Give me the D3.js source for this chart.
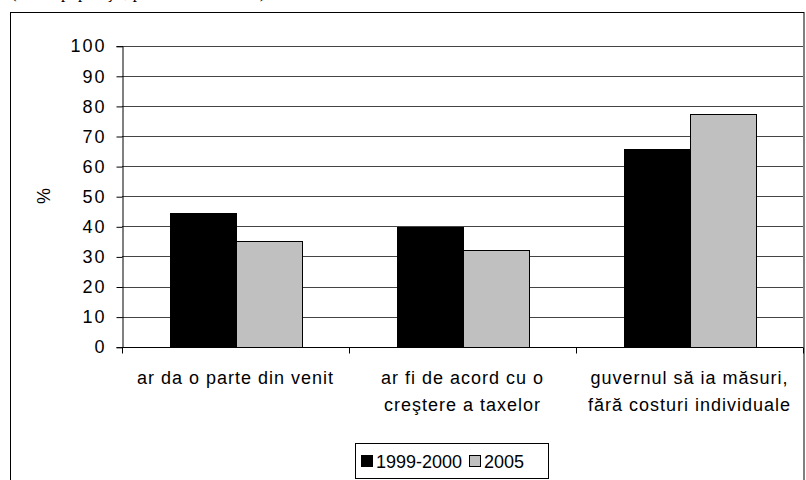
<!DOCTYPE html>
<html>
<head>
<meta charset="utf-8">
<script src="https://cdn.jsdelivr.net/npm/d3@7"></script>
<style>
  html, body { margin: 0; padding: 0; background: #fff; }
  svg { display: block; }
</style>
</head>
<body>
<svg id="chart" width="806" height="480"></svg>
<script>
const categories = [
  ["ar da o parte din venit"],
  ["ar fi de acord cu o", "creştere a taxelor"],
  ["guvernul să ia măsuri,", "fără costuri individuale"]
];
const seriesNames = ["1999-2000", "2005"];
const values1999 = [44.5, 39.7, 65.8];
const values2005 = [35.0, 32.1, 77.2];
const yTicks = [0, 10, 20, 30, 40, 50, 60, 70, 80, 90, 100];
const seriesColors = ["#000000", "#c0c0c0"];

const svg = d3.select("#chart");
const font = "'Liberation Sans', Arial, sans-serif";

// header text, almost entirely above the top edge in the reference
svg.append("text")
  .attr("x", 11).attr("y", -2.5)
  .attr("font-family", "'Liberation Serif', 'Times New Roman', serif")
  .attr("font-size", 17)
  .text("(% din populaţie, pe ani de cercetare)");

// outer frame
svg.append("rect")
  .attr("x", 10.5).attr("y", 12.5)
  .attr("width", 793.5).attr("height", 480)
  .attr("fill", "none").attr("stroke", "#000").attr("stroke-width", 1);

const plot = { left: 122, right: 803, top: 45.7, bottom: 346.7 };

const y = d3.scaleLinear().domain([0, 100]).range([plot.bottom, plot.top]);
const x0 = d3.scaleBand().domain(d3.range(categories.length)).range([plot.left, plot.right]).padding(0);
const bw = x0.bandwidth();
const x1 = d3.scaleBand().domain(seriesNames).range([bw * 0.21, bw * 0.79]).padding(0);

// gridlines
svg.append("g").selectAll("line")
  .data(yTicks.filter(d => d > 0))
  .join("line")
  .attr("x1", plot.left).attr("x2", plot.right)
  .attr("y1", d => Math.round(y(d)) + 0.5).attr("y2", d => Math.round(y(d)) + 0.5)
  .attr("stroke", "#444").attr("stroke-width", 1);

// y axis
const yAxis = d3.axisLeft(y).tickValues(yTicks).tickSize(6).tickPadding(10).tickFormat(d3.format("d"));
const gy = svg.append("g").attr("transform", `translate(${plot.left + 0.5},0.5)`).call(yAxis);
gy.select(".domain").attr("stroke", "#000");
gy.selectAll(".tick line").attr("stroke", "#000");
gy.selectAll("text").attr("font-family", font).attr("font-size", 18)
  .attr("letter-spacing", 2).attr("fill", "#000");

// y title
svg.append("text")
  .attr("transform", "translate(50,196) rotate(-90)")
  .attr("text-anchor", "middle")
  .attr("font-family", font).attr("font-size", 18)
  .text("%");

// bars
const data = categories.map((c, i) => ({ i, vals: [values1999[i], values2005[i]] }));
const groups = svg.append("g").selectAll("g")
  .data(data).join("g")
  .attr("transform", d => `translate(${x0(d.i)},0)`);
groups.selectAll("rect")
  .data(d => d.vals.map((v, k) => ({ k, v })))
  .join("rect")
  .attr("x", d => Math.round(x1(seriesNames[d.k])) + 0.5)
  .attr("y", d => Math.round(y(d.v)) + 0.5)
  .attr("width", Math.round(x1.bandwidth()))
  .attr("height", d => Math.round(y(0)) - Math.round(y(d.v)))
  .attr("fill", d => seriesColors[d.k])
  .attr("stroke", "#000").attr("stroke-width", 1);

// x axis line and ticks at category boundaries
svg.append("line")
  .attr("x1", plot.left).attr("x2", plot.right)
  .attr("y1", Math.round(y(0)) + 0.5).attr("y2", Math.round(y(0)) + 0.5)
  .attr("stroke", "#000");
const boundaries = d3.range(categories.length + 1).map(i => i < categories.length ? x0(i) : plot.right);
svg.append("g").selectAll("line")
  .data(boundaries).join("line")
  .attr("x1", d => Math.round(d) + 0.5).attr("x2", d => Math.round(d) + 0.5)
  .attr("y1", Math.round(y(0)) + 0.5).attr("y2", Math.round(y(0)) + 6.5)
  .attr("stroke", "#000");

// category labels
const lab = svg.append("g").selectAll("text")
  .data(categories).join("text")
  .attr("x", (d, i) => x0(i) + bw / 2)
  .attr("y", 384)
  .attr("text-anchor", "middle")
  .attr("font-family", font).attr("font-size", 18)
  .attr("letter-spacing", 1).attr("fill", "#000");
lab.selectAll("tspan")
  .data(d => d).join("tspan")
  .attr("x", function() { return this.parentNode.getAttribute("x"); })
  .attr("dy", (d, k) => k === 0 ? 0 : 27)
  .text(d => d);

// legend
const lg = svg.append("g");
lg.append("rect")
  .attr("x", 355.5).attr("y", 443.5).attr("width", 193).attr("height", 35)
  .attr("fill", "#fff").attr("stroke", "#000");
const items = [{ x: 361 }, { x: 469 }];
seriesNames.forEach((name, k) => {
  lg.append("rect")
    .attr("x", items[k].x + 0.5).attr("y", 455.5).attr("width", 11).attr("height", 11)
    .attr("fill", seriesColors[k]).attr("stroke", "#000");
  lg.append("text")
    .attr("x", items[k].x + 15).attr("y", 468)
    .attr("font-family", font).attr("font-size", 18)
    .text(name);
});
</script>
</body>
</html>
